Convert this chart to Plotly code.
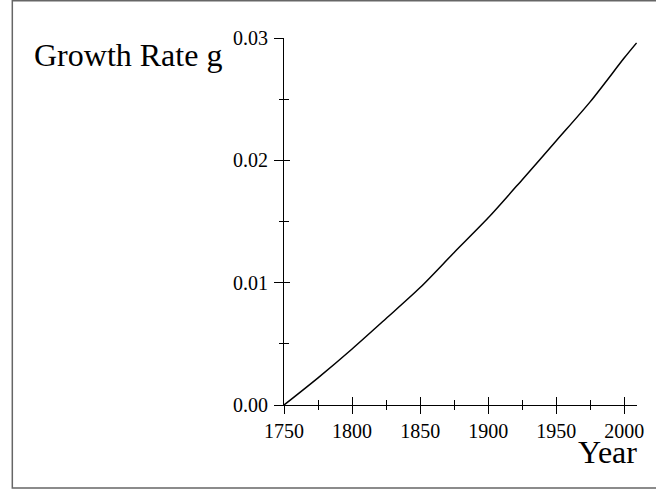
import plotly.graph_objects as go

# Data
years = [1750, 1775, 1800, 1825, 1850, 1875, 1900, 1925, 1950, 1975, 2000, 2009]
growth = [0.0, 0.00222, 0.00458, 0.00707, 0.0096, 0.01247, 0.0153, 0.01842, 0.0216, 0.0248, 0.02838, 0.0296]
x_range = [1750, 2009.3]
y_range = [0, 0.03]

W, H = 656, 492
L, R, T, B = 284, 16, 38, 87
PW, PH = W - L - R, H - T - B


def px_x(p):
    return (p - L) / PW


def px_y(p):
    return (H - B - p) / PH


FONT = "Liberation Serif, Times New Roman, serif"

fig = go.Figure()
fig.add_trace(go.Scatter(x=years, y=growth, mode="lines",
                         line=dict(color="black", width=1.5, shape="spline", smoothing=0.8),
                         showlegend=False, hoverinfo="skip"))
# invisible trace on overlay axes (for crossing ticks)
fig.add_trace(go.Scatter(x=years, y=growth, mode="lines", xaxis="x2", yaxis="y2",
                         line=dict(color="rgba(0,0,0,0)", width=0),
                         showlegend=False, hoverinfo="skip"))

axis_common = dict(showgrid=False, zeroline=False, showline=True, linecolor="black",
                   linewidth=1, tickcolor="black", tickwidth=1,
                   tickfont=dict(family=FONT, size=20, color="black"))

frame_path = "M {x1},{yt} L {x0},{yt} L {x0},{yb} L {x1},{yb}".format(
    x0=px_x(10), x1=px_x(720), yt=px_y(0.75), yb=px_y(488))

fig.update_layout(
    width=W, height=H,
    margin=dict(l=L, r=R, t=T, b=B),
    paper_bgcolor="white", plot_bgcolor="white",
    xaxis=dict(range=x_range, tick0=1750, dtick=50, ticks="outside", ticklen=8,
               ticklabelstandoff=0,
               minor=dict(dtick=25, tick0=1750, ticks="outside", ticklen=4,
                          tickcolor="black", showgrid=False),
               **axis_common),
    yaxis=dict(range=y_range, tick0=0, dtick=0.01, ticks="outside", ticklen=9,
               tickformat=".2f", ticklabelstandoff=2,
               minor=dict(dtick=0.005, tick0=0, ticks="outside", ticklen=4,
                          tickcolor="black", showgrid=False),
               **axis_common),
    xaxis2=dict(range=x_range, overlaying="x", anchor="y2", side="bottom",
                tick0=1750, dtick=50, ticks="inside", ticklen=8, showticklabels=False,
                minor=dict(dtick=25, tick0=1750, ticks="inside", ticklen=5,
                           tickcolor="black", showgrid=False),
                showgrid=False, zeroline=False, showline=False, tickcolor="black"),
    yaxis2=dict(range=y_range, overlaying="y", anchor="x2", side="left",
                tick0=0, dtick=0.01, ticks="inside", ticklen=6, showticklabels=False,
                minor=dict(dtick=0.005, tick0=0, ticks="inside", ticklen=5,
                           tickcolor="black", showgrid=False),
                showgrid=False, zeroline=False, showline=False, tickcolor="black"),
    shapes=[dict(type="path", xref="paper", yref="paper", path=frame_path,
                 line=dict(color="#666666", width=1.5), layer="below")],
    annotations=[
        dict(text="Growth Rate g", xref="paper", yref="paper", x=px_x(30), y=px_y(55),
             xanchor="left", yanchor="middle", showarrow=False,
             font=dict(family=FONT, size=32, color="black")),
        dict(text="Year", xref="paper", yref="paper", x=px_x(610), y=px_y(452),
             xanchor="center", yanchor="middle", showarrow=False,
             font=dict(family=FONT, size=32, color="black")),
    ],
)

fig.write_html("out.html", config={"displayModeBar": False},
               post_script="document.body.style.margin='0';")
